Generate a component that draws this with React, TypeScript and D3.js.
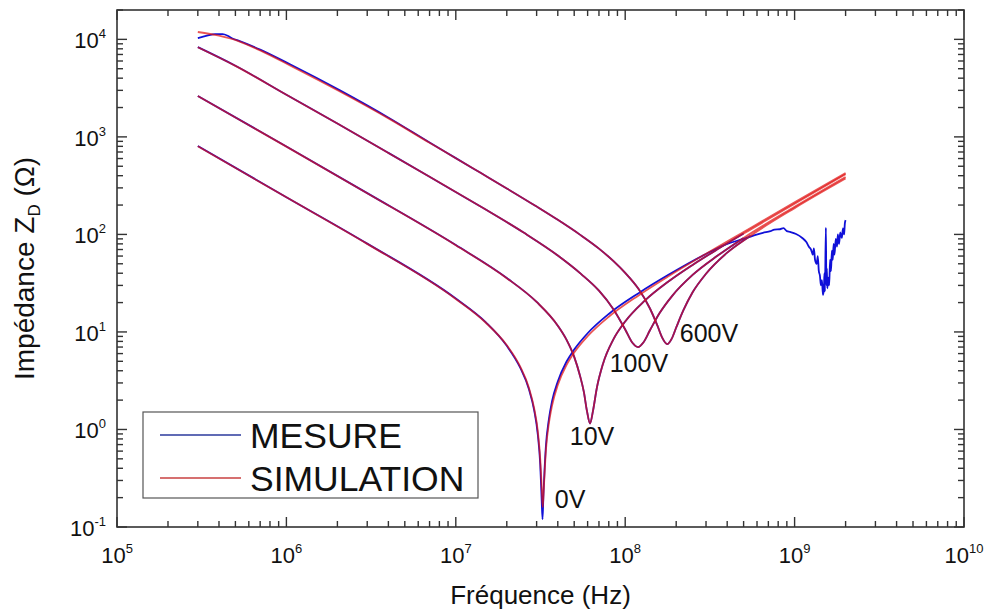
import React from 'react';
import * as d3 from 'd3';

type Pt = [number, number];

// Tick decades (exponents)
const xDecades = [5, 6, 7, 8, 9, 10];
const yDecades = [-1, 0, 1, 2, 3, 4];

// Simulation (red) and measurement (blue) — [frequency Hz, impedance Ω]
const sim0V: Pt[] = [
  [3e5, 800], [1e6, 240], [3e6, 80], [1e7, 21.8], [1.5e7, 12.5], [2e7, 7.3], [2.4e7, 4.4], [2.7e7, 2.68],
  [2.9e7, 1.65], [3.05e7, 0.95], [3.15e7, 0.5], [3.22e7, 0.24], [3.26e7, 0.16], [3.3e7, 0.23], [3.4e7, 0.6],
  [3.55e7, 1.18], [3.7e7, 1.76], [4e7, 2.86], [4.5e7, 4.56], [5e7, 6.14], [6e7, 9.03], [8e7, 14.3],
  [1.2e8, 23.7], [1.8e8, 37.2], [3e8, 63.3], [5e8, 106], [1e9, 213], [2e9, 425],
];
const meas0V: Pt[] = [
  [3e5, 805], [1e6, 241], [3e6, 80.5], [1e7, 22], [1.5e7, 12.6], [2e7, 7.2], [2.4e7, 4.3], [2.7e7, 2.6],
  [2.9e7, 1.58], [3.05e7, 0.88], [3.15e7, 0.44], [3.21e7, 0.2], [3.25e7, 0.12], [3.29e7, 0.21], [3.4e7, 0.66],
  [3.55e7, 1.3], [3.7e7, 1.95], [4e7, 3.1], [4.5e7, 4.95], [5e7, 6.6], [6e7, 9.7], [8e7, 15.3],
  [1.2e8, 25], [1.8e8, 38.5], [3e8, 63], [4e8, 80], [5e8, 90], [5.5e8, 95], [6.5e8, 104], [7.2e8, 108],
  [7.6e8, 112], [8.2e8, 113], [8.6e8, 116], [9e8, 108], [9.4e8, 106], [1.02e9, 101], [1.11e9, 92],
  [1.17e9, 84], [1.22e9, 74], [1.25e9, 70], [1.28e9, 62], [1.3e9, 72], [1.32e9, 55], [1.35e9, 50],
  [1.37e9, 60], [1.39e9, 42], [1.41e9, 38], [1.43e9, 30], [1.45e9, 34], [1.47e9, 24], [1.49e9, 28],
  [1.5e9, 40], [1.51e9, 26], [1.53e9, 117], [1.54e9, 30], [1.55e9, 45], [1.56e9, 28], [1.58e9, 36],
  [1.6e9, 30], [1.62e9, 55], [1.64e9, 42], [1.66e9, 68], [1.68e9, 55], [1.7e9, 80], [1.72e9, 62],
  [1.75e9, 90], [1.78e9, 75], [1.8e9, 100], [1.83e9, 80], [1.86e9, 105], [1.9e9, 92], [1.93e9, 115],
  [1.96e9, 100], [1.98e9, 130], [2e9, 140],
];
const sim10V: Pt[] = [
  [3e5, 2620], [1e6, 795], [3e6, 264], [1e7, 77.5], [2e7, 35.6], [3e7, 20.3], [4e7, 11.6], [4.5e7, 8.35],
  [5e7, 5.55], [5.4e7, 3.6], [5.7e7, 2.43], [5.95e7, 1.54], [6.2e7, 1.15], [6.45e7, 1.54], [6.8e7, 2.66],
  [7.4e7, 4.73], [8.5e7, 8.34], [1e8, 12.8], [1.3e8, 20.8], [1.8e8, 32.9], [2.5e8, 48.7], [3.5e8, 70.3],
  [5e8, 102], [1e9, 206], [2e9, 414],
];
const meas10V: Pt[] = [
  [3e5, 2630], [1e6, 797], [3e6, 265], [1e7, 77.8], [2e7, 35.7], [3e7, 20.3], [4e7, 11.6], [4.5e7, 8.35],
  [5e7, 5.55], [5.4e7, 3.6], [5.7e7, 2.43], [5.95e7, 1.54], [6.2e7, 1.15], [6.45e7, 1.54], [6.8e7, 2.66],
  [7.4e7, 4.73], [8.5e7, 8.34], [1e8, 12.8], [1.3e8, 20.8], [1.8e8, 32.9], [2.5e8, 48.7], [3.5e8, 70.3],
  [5e8, 102],
];
const sim100V: Pt[] = [
  [3e5, 8300], [5e5, 5350], [1e6, 2700], [2e6, 1370], [4e6, 685], [7e6, 390], [1.4e7, 193], [2.5e7, 105],
  [4e7, 60.8], [5.5e7, 39.2], [7e7, 26.5], [8.5e7, 17.2], [1e8, 10.6], [1.1e8, 7.8], [1.19e8, 7],
  [1.28e8, 7.8], [1.4e8, 10.4], [1.6e8, 15.7], [1.9e8, 23.6], [2.5e8, 38.4], [3.5e8, 60.3], [5e8, 92],
  [1e9, 192], [2e9, 388],
];
const meas100V: Pt[] = [
  [3e5, 8320], [5e5, 5360], [1e6, 2705], [2e6, 1372], [4e6, 686], [7e6, 390], [1.4e7, 193], [2.5e7, 105],
  [4e7, 60.8], [5.5e7, 39.2], [7e7, 26.5], [8.5e7, 17.2], [1e8, 10.6], [1.1e8, 7.8], [1.19e8, 7],
  [1.28e8, 7.8], [1.4e8, 10.4], [1.6e8, 15.7], [1.9e8, 23.6], [2.5e8, 38.4], [3.5e8, 60.3], [5e8, 92],
];
const sim600V: Pt[] = [
  [3e5, 11900], [4e5, 10900], [5.3e5, 9500], [7e5, 7700], [1.05e6, 5400], [2.07e6, 2920], [4.08e6, 1520],
  [7e6, 870], [1e7, 605], [1.4e7, 428], [2e7, 296], [3e7, 193], [4e7, 141], [5.4e7, 99.5], [7e7, 71.5],
  [8.5e7, 53.5], [1e8, 40.3], [1.2e8, 27.5], [1.4e8, 17.4], [1.55e8, 11.6], [1.65e8, 8.8], [1.77e8, 7.5],
  [1.88e8, 8.5], [2e8, 11.1], [2.2e8, 16.5], [2.5e8, 25.5], [3e8, 39.5], [4e8, 65], [5.5e8, 97],
  [1e9, 186], [2e9, 374],
];
const meas600V: Pt[] = [
  [3e5, 10300], [3.4e5, 10900], [3.8e5, 11300], [4.2e5, 11300], [4.5e5, 10900], [4.8e5, 10200],
  [5.3e5, 9600], [7e5, 7850], [1.05e6, 5550], [2.07e6, 3000], [4.08e6, 1545], [7e6, 875], [1e7, 606],
  [1.4e7, 428], [2e7, 296], [3e7, 193], [4e7, 141], [5.4e7, 99.5], [7e7, 71.5], [8.5e7, 53.5], [1e8, 40.3],
  [1.2e8, 27.5], [1.4e8, 17.4], [1.55e8, 11.6], [1.65e8, 8.8], [1.77e8, 7.5], [1.88e8, 8.5], [2e8, 11.1],
  [2.2e8, 16.5], [2.5e8, 25.5], [3e8, 39.5], [4e8, 65], [5.5e8, 97],
];

// Curve annotations: [label, frequency, impedance]
const annotations: [string, number, number][] = [
  ['0V', 3.84e7, 0.157],
  ['10V', 4.71e7, 0.69],
  ['100V', 8.1e7, 3.9],
  ['600V', 2.1e8, 7.9],
];

const legendItems = ['MESURE', 'SIMULATION'];

const BLUE = '#1010d8';
const RED = '#e01414';
const AXIS = '#333';
const FONT = '"Liberation Sans", Arial, sans-serif';

export default function App() {
  const W = 989, H = 611;
  const left = 117, right = 964, top = 10, bottom = 527;
  const x = d3.scaleLog().domain([1e5, 1e10]).range([left, right]);
  const y = d3.scaleLog().domain([0.1, 2e4]).range([bottom, top]);
  const line = d3.line<Pt>().x(d => x(d[0])).y(d => y(d[1])).curve(d3.curveMonotoneX);

  const xTicks: { v: number; major: boolean }[] = [];
  xDecades.forEach((e, i) => {
    xTicks.push({ v: Math.pow(10, e), major: true });
    if (i < xDecades.length - 1) for (let k = 2; k <= 9; k++) xTicks.push({ v: k * Math.pow(10, e), major: false });
  });
  const yTicks: { v: number; major: boolean }[] = [];
  yDecades.forEach(e => {
    yTicks.push({ v: Math.pow(10, e), major: true });
    for (let k = 2; k <= 9; k++) {
      const v = k * Math.pow(10, e);
      if (v <= 2e4) yTicks.push({ v, major: false });
    }
  });
  const MAJ = 10, MIN = 6;

  const measStyle = { fill: 'none', stroke: BLUE, strokeWidth: 1.8 } as const;
  const simStyle = { fill: 'none', stroke: RED, strokeWidth: 1.8, strokeOpacity: 0.72 } as const;

  return (
    <svg width={W} height={H} style={{ position: 'absolute', left: 0, top: 0, background: '#fff' }} fontFamily={FONT}>
      <rect x={0} y={0} width={W} height={H} fill="#fff" />
      {/* curves: measurement below, simulation on top */}
      <path d={line(meas600V) || ''} style={measStyle} />
      <path d={line(meas100V) || ''} style={measStyle} />
      <path d={line(meas10V) || ''} style={measStyle} />
      <path d={line(meas0V) || ''} style={measStyle} />
      <path d={line(sim600V) || ''} style={simStyle} />
      <path d={line(sim100V) || ''} style={simStyle} />
      <path d={line(sim10V) || ''} style={simStyle} />
      <path d={line(sim0V) || ''} style={simStyle} />

      {/* axes frame */}
      <rect x={left} y={top} width={right - left} height={bottom - top} fill="none" stroke={AXIS} strokeWidth={1.6} />
      {xTicks.map((t, i) => {
        const xx = x(t.v), len = t.major ? MAJ : MIN;
        return (
          <g key={'xt' + i}>
            <line x1={xx} x2={xx} y1={bottom} y2={bottom - len} stroke={AXIS} strokeWidth={1.4} />
            <line x1={xx} x2={xx} y1={top} y2={top + len} stroke={AXIS} strokeWidth={1.4} />
          </g>
        );
      })}
      {yTicks.map((t, i) => {
        const yy = y(t.v), len = t.major ? MAJ : MIN;
        return (
          <g key={'yt' + i}>
            <line x1={left} x2={left + len} y1={yy} y2={yy} stroke={AXIS} strokeWidth={1.4} />
            <line x1={right} x2={right - len} y1={yy} y2={yy} stroke={AXIS} strokeWidth={1.4} />
          </g>
        );
      })}
      {xDecades.map(e => (
        <text key={'xl' + e} x={x(Math.pow(10, e))} y={bottom + 36} textAnchor="middle" fontSize={22} fill="#111">
          <tspan>10</tspan>
          <tspan dy={-10} fontSize={13}>{e}</tspan>
        </text>
      ))}
      {yDecades.map(e => (
        <text key={'yl' + e} x={106} y={y(Math.pow(10, e)) + 9} textAnchor="end" fontSize={22} fill="#111">
          <tspan>10</tspan>
          <tspan dy={-10} fontSize={13}>{e}</tspan>
        </text>
      ))}

      {/* axis titles */}
      <text x={(left + right) / 2} y={604} textAnchor="middle" fontSize={26} fill="#111">Fréquence (Hz)</text>
      <text transform={`translate(34,${(top + bottom) / 2}) rotate(-90)`} textAnchor="middle" fontSize={28} fill="#111">
        <tspan>Impédance Z</tspan>
        <tspan fontSize={17} dy={6}>D</tspan>
        <tspan dy={-6}> (Ω)</tspan>
      </text>

      {/* annotations */}
      {annotations.map(([t, f, z]) => (
        <text key={t} x={x(f)} y={y(z)} fontSize={25} fill="#111">{t}</text>
      ))}

      {/* legend */}
      <rect x={143} y={412} width={335} height={86} fill="#fff" stroke="#555" strokeWidth={1.2} />
      {legendItems.map((name, i) => (
        <g key={name}>
          <line x1={160} x2={241} y1={435 + i * 43} y2={435 + i * 43} stroke={i === 0 ? '#2b3a9c' : '#c84040'} strokeWidth={1.6} />
          <text x={250} y={448 + i * 43} fontSize={35.5} fill="#111">{name}</text>
        </g>
      ))}
    </svg>
  );
}
